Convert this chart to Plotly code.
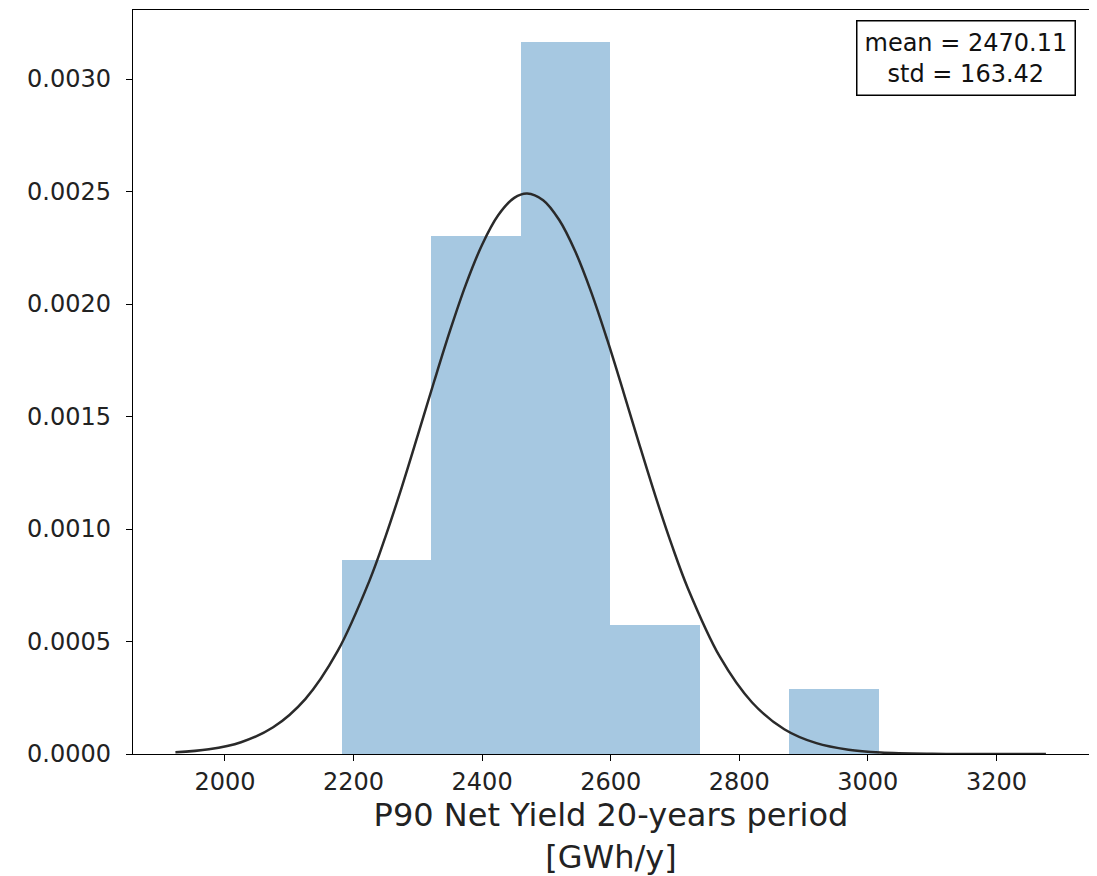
"""Histogram of P90 net yield with fitted normal curve."""

import plotly.graph_objects as go

# histogram bins (GWh/y) and counts per bin
bin_edges = [2182.0, 2321.1, 2460.2, 2599.3, 2738.4, 2877.5, 3016.6]
bin_counts = [3, 8, 11, 2, 0, 1]

# fitted normal curve
curve_x = [1923, 1975, 2025, 2075, 2125, 2175, 2225, 2250, 2275, 2300, 2325,
           2350, 2375, 2400, 2425, 2450, 2470, 2495, 2520, 2545, 2570, 2595,
           2620, 2645, 2670, 2695, 2720, 2770, 2820, 2870, 2920, 2970, 3020,
           3100, 3200, 3277]
curve_y = [0.0000073, 0.0000209, 0.0000524, 0.0001186, 0.0002441, 0.0004557,
           0.0007718, 0.0009685, 0.0011852, 0.0014169, 0.0016524, 0.0018806,
           0.0020886, 0.0022638, 0.0023946, 0.0024719, 0.0024915, 0.0024616,
           0.0023734, 0.0022334, 0.0020510, 0.0018380, 0.0016078, 0.0013721,
           0.0011429, 0.0009293, 0.0007372, 0.0004313, 0.0002289, 0.0001102,
           0.0000481, 0.0000191, 0.0000068, 0.0000011, 0.0000000, 0.0000000]

stats_text = "mean = 2470.11<br>std = 163.42"

y_ticks = [0.0, 0.0005, 0.0010, 0.0015, 0.0020, 0.0025, 0.0030]
x_ticks = [2000, 2200, 2400, 2600, 2800, 3000, 3200]

# density-normalised bars
n_total = sum(bin_counts)
widths = [b - a for a, b in zip(bin_edges[:-1], bin_edges[1:])]
centers = [(a + b) / 2 for a, b in zip(bin_edges[:-1], bin_edges[1:])]
density = [c / (n_total * w) for c, w in zip(bin_counts, widths)]

FONT = "DejaVu Sans"

fig = go.Figure()
fig.add_trace(
    go.Bar(
        x=centers,
        y=density,
        width=widths,
        marker=dict(color="#a6c8e1", line=dict(width=0)),
        showlegend=False,
    )
)
fig.add_trace(
    go.Scatter(
        x=curve_x,
        y=curve_y,
        mode="lines",
        line=dict(color="#2a2a2a", width=2.5, shape="spline", smoothing=1.0),
        showlegend=False,
    )
)

fig.add_annotation(
    text=stats_text,
    xref="paper",
    yref="paper",
    x=1,
    y=1,
    xanchor="right",
    yanchor="top",
    xshift=-13,
    yshift=-10,
    showarrow=False,
    align="center",
    font=dict(family=FONT, size=24, color="#111"),
    bordercolor="black",
    borderwidth=1.5,
    borderpad=7,
    bgcolor="white",
)

axis_style = dict(
    showline=True,
    linecolor="black",
    linewidth=1.3,
    mirror=True,
    showgrid=False,
    zeroline=False,
    ticks="outside",
    ticklen=6,
    tickwidth=1.3,
    tickcolor="black",
    tickfont=dict(family=FONT, size=24, color="#222"),
)

fig.update_xaxes(
    range=[1857, 3344],
    tickvals=x_ticks,
    title=dict(
        text="P90 Net Yield 20-years period<br>[GWh/y]",
        font=dict(family=FONT, size=32, color="#222"),
        standoff=10,
    ),
    **axis_style,
)
fig.update_yaxes(
    range=[0, 0.003307],
    tickvals=y_ticks,
    tickformat=".4f",
    ticklabelstandoff=10,
    **axis_style,
)

# the page adds an 8px body margin, so the figure is 8px smaller
fig.update_layout(
    width=1089,
    height=868,
    margin=dict(l=125, r=8, t=2, b=122, autoexpand=False),
    plot_bgcolor="white",
    paper_bgcolor="white",
    bargap=0,
)

fig.write_html("out.html")
